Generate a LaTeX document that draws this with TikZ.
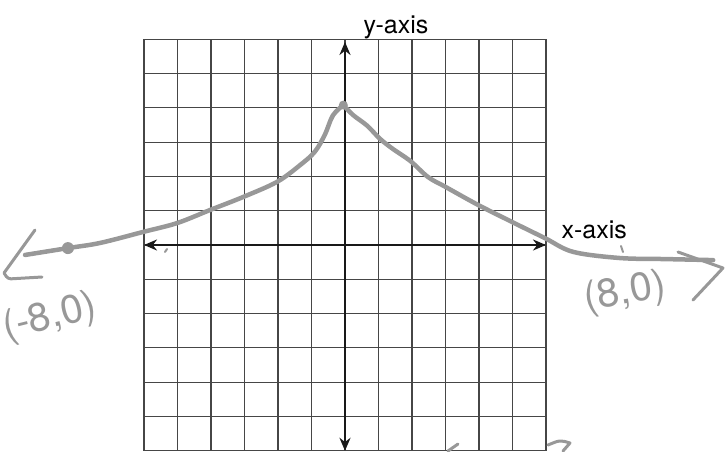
\documentclass[tikz,border=0pt]{standalone}
\usepackage{fontspec}
\setmainfont{TeX Gyre Heros}
\usetikzlibrary{arrows.meta, positioning}
\definecolor{pencil}{RGB}{152,152,152}
\definecolor{gridclr}{RGB}{70,70,70}

\begin{document}
\begin{tikzpicture}[x=1pt, y=-1pt,
    gridline/.style = {gridclr, line width=1.1pt},
    axisline/.style = {black!90, line width=2.8pt, {Stealth[length=13pt, width=11pt]}-{Stealth[length=13pt, width=11pt]}},
    curve/.style = {pencil, line width=4.5pt, line cap=round, line join=round},
    stroke/.style = {pencil, line width=3pt, line cap=round, line join=round},
    dotmark/.style = {circle, fill=pencil, inner sep=0pt, minimum size=12pt},
    axislabel/.style = {font=\fontsize{25}{25}\selectfont, anchor=base west},
    handlabel/.style = {pencil, font=\fontsize{40}{40}\selectfont}]
\useasboundingbox (0,0) rectangle (726,451);

\begin{scope}[shift={(345,245)}, x=33.5pt, y=34.3pt]
  % graph paper
  \foreach \k in {-6,...,6}{
    \draw[gridline] (\k,-6) -- (\k,6);
    \draw[gridline] (-6,\k) -- (6,\k);
  }
  \coordinate (xl) at (-6,0);
  \coordinate (xr) at (6,0);
  \coordinate (yb) at (0,-6);
  \coordinate (yt) at (0,5.92);
  \draw[axisline] (xl) -- (xr);
  \draw[axisline] (yb) -- (yt);

  % pencil curve
  \node[dotmark, minimum size=9pt] (peak) at (-0.05,4.08) {};
  \node[dotmark] (lpt) at (-8.27,-0.09) {};
  \coordinate (lend) at (-9.55,-0.29);
  \coordinate (rend) at (10.99,-0.44);
  \draw[curve] plot[smooth, tension=0.55] coordinates {(lend) (lpt.center) (-7.31,0.06) (-6.03,0.38) (-5.01,0.64) (-4.03,1.02) (-3.04,1.40) (-2.03,1.84) (-1.34,2.33) (-0.9,2.72) (-0.6,3.22) (-0.36,3.78) (peak.center)};
  \draw[curve] plot[smooth, tension=0.55] coordinates {(peak.center) (0.24,3.79) (0.66,3.48) (1.04,3.1) (1.43,2.8) (1.95,2.45) (2.48,1.98) (2.99,1.7) (3.97,1.17) (4.99,0.67) (5.97,0.2) (6.81,-0.2) (8.21,-0.38) (9.55,-0.41) (rend)};
\end{scope}

% hand drawn arrow heads
\draw[stroke] (35,230) -- (4,273) [rounded corners=3pt] -- (8,279) -- (42,277);
\draw[stroke] (678,252) -- (723,268) -- (693,300);

% labels
\node[axislabel] (ylab) at (360,33) {y-axis};
\node[axislabel] (xlab) at (558,238) {x-axis};
\node[handlabel, rotate=14] (lptlab) at (50,318) {(-8,0)};
\node[handlabel, rotate=10] (rptlab) at (625,293) {(8,0)};

% stray pencil marks
\draw[stroke, line width=2pt] (165,252) -- (167,249);
\draw[stroke, line width=2pt] (621,246) -- (623,252);
\draw[stroke] (448,451) -- (458,444);
\draw[stroke] (548,445) .. controls (560,440) .. (570,443) -- (563,451);
\end{tikzpicture}
\end{document}
